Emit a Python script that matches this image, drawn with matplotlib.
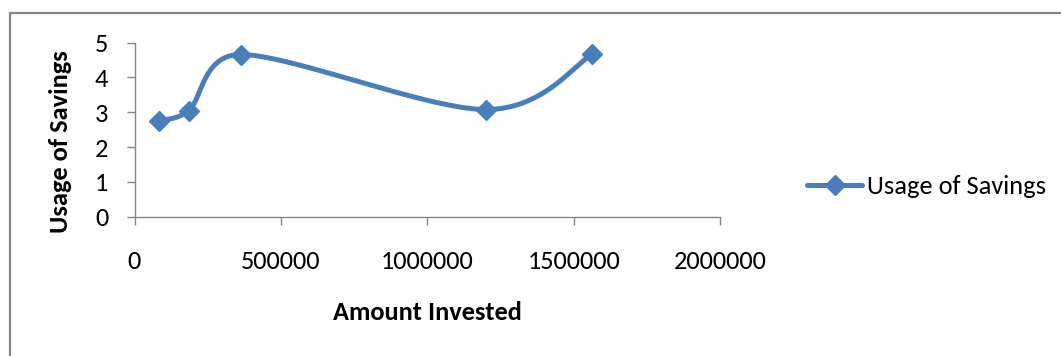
import numpy as np
import matplotlib
matplotlib.use("Agg")
import matplotlib.pyplot as plt
from matplotlib import font_manager
from matplotlib.patches import Rectangle

# survey averages per investment level
amount_invested = [85000, 185000, 362000, 1200000, 1563000]
usage_of_savings = [2.76, 3.05, 4.66, 3.08, 4.67]
x_ticks = [0, 500000, 1000000, 1500000, 2000000]
y_ticks = [0, 1, 2, 3, 4, 5]

try:
    font_manager.findfont("Carlito", fallback_to_default=False)
    family, fs = "Carlito", 19
except ValueError:
    family, fs = "Lato", 16
plt.rcParams["font.family"] = [family, "DejaVu Sans"]

blue = "#4a7ebb"
grey = "#868686"


def arm(direction, seg_len):
    # 1/6 of the neighbour chord, but never longer than half the segment
    n = np.hypot(*direction)
    if n == 0:
        return direction * 0
    length = min(n / 6, seg_len / 2)
    return direction / n * length


def smooth_curve(ax, xs, ys, steps=40):
    # bezier through every point, worked out in screen pixels
    pts = ax.transData.transform(np.column_stack([xs, ys]).astype(float))
    padded = np.vstack([pts[0], pts, pts[-1]])
    t = np.linspace(0, 1, steps + 1)[1:, None]
    out = [pts[0]]
    for i in range(len(pts) - 1):
        p0, p1, p2, p3 = padded[i:i + 4]
        d12 = np.hypot(*(p2 - p1))
        c1 = p1 + arm(p2 - p0, d12)
        c2 = p2 - arm(p3 - p1, d12)
        seg = (1 - t) ** 3 * p1 + 3 * (1 - t) ** 2 * t * c1 + 3 * (1 - t) * t ** 2 * c2 + t ** 3 * p2
        out.extend(seg)
    out = ax.transData.inverted().transform(np.array(out))
    marks = list(range(0, steps * (len(pts) - 1) + 1, steps))
    return out[:, 0], out[:, 1], marks


W, H = 1061, 356
fig = plt.figure(figsize=(W / 100, H / 100), dpi=100)
ax = fig.add_axes([134.5 / W, 1 - 216.7 / H, (720.3 - 134.5) / W, (216.7 - 42.7) / H])
ax.set_xlim(0, 2000000)
ax.set_ylim(0, 5)

sx, sy, marks = smooth_curve(ax, amount_invested, usage_of_savings)
ax.plot(sx, sy, color=blue, lw=3.6, marker="D", markevery=marks, ms=10.5,
        mfc=blue, mec=blue, label="Usage of Savings", solid_capstyle="round")

ax.set_xticks(x_ticks)
ax.set_yticks(y_ticks)
ax.set_xticklabels([str(v) for v in x_ticks])

for side in ["top", "right"]:
    ax.spines[side].set_visible(False)
for side in ["left", "bottom"]:
    ax.spines[side].set_color(grey)
    ax.spines[side].set_linewidth(1.0)

ax.tick_params(axis="both", direction="out", length=5.8, width=1.0, color=grey,
               labelsize=fs, labelcolor="black")
ax.tick_params(axis="x", pad=18.5)
ax.tick_params(axis="y", pad=13)

ax.set_xlabel("Amount Invested", fontsize=fs, fontweight="bold", va="center")
ax.xaxis.set_label_coords(0.5, -0.548)
ax.set_ylabel("Usage of Savings", fontsize=fs, fontweight="bold", va="center")
ax.yaxis.set_label_coords(-0.1255, 0.429)

ax.legend(loc="center left", bbox_to_anchor=(807 / W, 1 - 186.7 / H),
          bbox_transform=fig.transFigure, frameon=False, fontsize=fs,
          borderpad=0, borderaxespad=0, handlelength=2.1, handletextpad=0.16)

# chart area border, runs off the right and bottom edges
fig.add_artist(Rectangle((9.5 / W, -0.1), 1.2, 1 - 13 / H + 0.1, transform=fig.transFigure,
                         fill=False, edgecolor=grey, lw=1.6, clip_on=False))

fig.savefig("out.png", dpi=100)
